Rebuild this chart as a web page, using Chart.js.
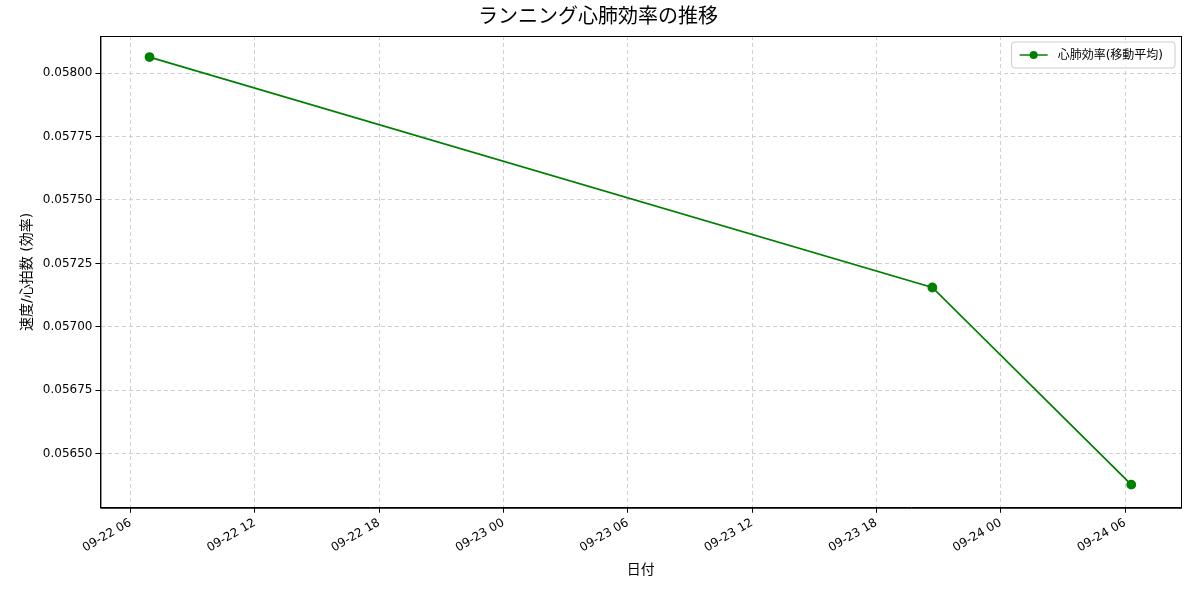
<!DOCTYPE html>
<html>
<head>
<meta charset="utf-8">
<script src="https://cdn.jsdelivr.net/npm/chart.js@4"></script>
<style>
  body { margin: 0; background: #fff; }
  #wrap { width: 1189px; height: 590px; }
</style>
</head>
<body>
<div id="wrap"><canvas id="effChart"></canvas></div>
<script>
// hours counted from 09-22 00:00
const hours = [6.92, 44.7, 54.3];
const efficiency = [0.058063, 0.057155, 0.056378];
const xTicks = [6, 12, 18, 24, 30, 36, 42, 48, 54];
const xTickLabels = ["09-22 06", "09-22 12", "09-22 18", "09-23 00", "09-23 06", "09-23 12", "09-23 18", "09-24 00", "09-24 06"];
const yTicks = [0.05650, 0.05675, 0.05700, 0.05725, 0.05750, 0.05775, 0.05800];
const seriesLabel = "心肺効率(移動平均)";

const FONT = "'DejaVu Sans', 'Noto Sans CJK JP', sans-serif";
Chart.defaults.font.family = FONT;
Chart.defaults.color = "#000";

// legend drawn inside the plot, top right (matplotlib style)
const innerLegend = {
    id: "innerLegend",
    afterDraw(chart) {
        const ctx = chart.ctx;
        const area = chart.chartArea;
        ctx.save();
        // full frame around the plot
        ctx.strokeStyle = "#000";
        ctx.lineWidth = 1;
        ctx.strokeRect(area.left + 0.5, area.top + 0.5, area.right - area.left, area.bottom - area.top);

        ctx.font = "12px " + FONT;
        const text = chart.data.datasets[0].label;
        const w = ctx.measureText(text).width + 58;
        const h = 26;
        const x = area.right - w - 6;
        const y = area.top + 6;
        ctx.fillStyle = "rgba(255,255,255,0.8)";
        ctx.strokeStyle = "#ccc";
        ctx.beginPath();
        ctx.roundRect(x, y, w, h, 3);
        ctx.fill();
        ctx.stroke();
        ctx.strokeStyle = "green";
        ctx.lineWidth = 1.5;
        ctx.beginPath();
        ctx.moveTo(x + 8, y + h / 2);
        ctx.lineTo(x + 36, y + h / 2);
        ctx.stroke();
        ctx.fillStyle = "green";
        ctx.beginPath();
        ctx.arc(x + 22, y + h / 2, 4, 0, Math.PI * 2);
        ctx.fill();
        ctx.fillStyle = "#000";
        ctx.textBaseline = "middle";
        ctx.fillText(text, x + 46, y + h / 2 + 1);
        ctx.restore();
    }
};

new Chart(document.getElementById("effChart"), {
    type: "line",
    data: {
        datasets: [{
            label: seriesLabel,
            data: hours.map((h, i) => ({ x: h, y: efficiency[i] })),
            borderColor: "green",
            backgroundColor: "green",
            borderWidth: 1.8,
            pointRadius: 4,
            pointHoverRadius: 4,
            fill: false,
            tension: 0
        }]
    },
    options: {
        responsive: true,
        maintainAspectRatio: false,
        animation: false,
        layout: { padding: { left: 15, right: 8, top: 4, bottom: 7 } },
        plugins: {
            legend: { display: false },
            tooltip: { enabled: false },
            title: {
                display: true,
                text: "ランニング心肺効率の推移",
                font: { size: 20, weight: "normal" },
                padding: { top: 2, bottom: 6 }
            }
        },
        scales: {
            x: {
                type: "linear",
                min: 4.55,
                max: 56.7,
                afterBuildTicks: axis => { axis.ticks = xTicks.map(v => ({ value: v })); },
                ticks: {
                    maxRotation: 30,
                    minRotation: 30,
                    font: { size: 12 },
                    callback: v => xTickLabels[xTicks.indexOf(v)]
                },
                grid: { color: "#d0d0d0", tickColor: "#000", tickLength: 5 },
                border: { color: "#000" },
                title: { display: true, text: "日付", font: { size: 14 } }
            },
            y: {
                min: 0.056287,
                max: 0.058146,
                afterBuildTicks: axis => { axis.ticks = yTicks.map(v => ({ value: v })); },
                ticks: { font: { size: 12 }, callback: v => v.toFixed(5) },
                grid: { color: "#d0d0d0", tickColor: "#000", tickLength: 5 },
                border: { color: "#000" },
                title: { display: true, text: "速度/心拍数 (効率)", font: { size: 14 } }
            }
        }
    },
    plugins: [innerLegend, {
        id: "dashGrid",
        beforeDraw(chart) {
            ["x", "y"].forEach(k => {
                chart.scales[k].options.border.dash = [4, 3];
            });
        }
    }]
});
</script>
</body>
</html>
